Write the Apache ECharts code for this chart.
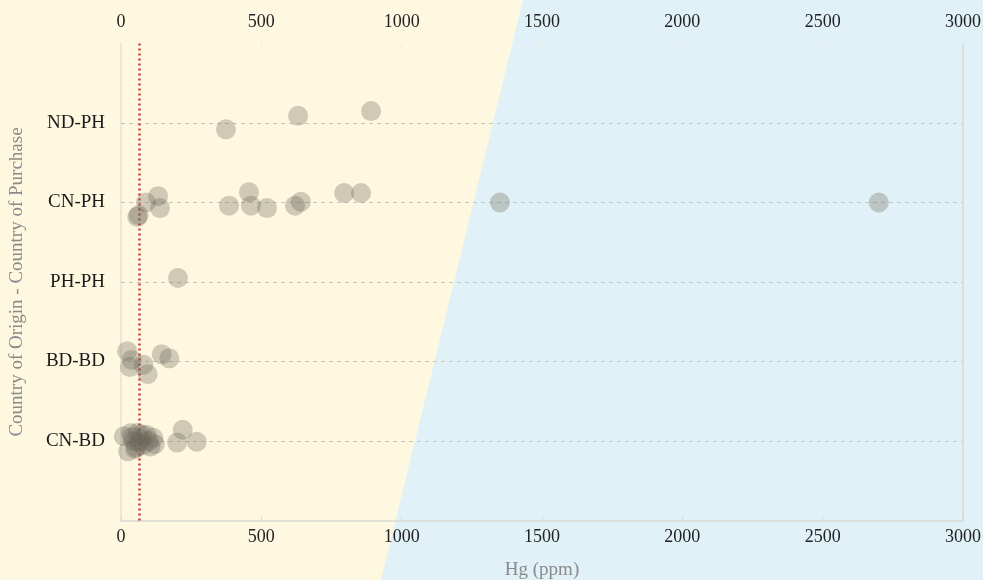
<!DOCTYPE html>
<html>
<head>
<meta charset="utf-8">
<script src="https://cdn.jsdelivr.net/npm/echarts@6/dist/echarts.min.js"></script>
<style>
  html, body { margin: 0; padding: 0; }
  #chart { width: 983px; height: 580px; }
</style>
</head>
<body>
<div id="chart"></div>
<script>
// Rows of the value axis: 1 = bottom row ... 5 = top row
const categories = ['CN-BD', 'BD-BD', 'PH-PH', 'CN-PH', 'ND-PH'];

// Hg concentration (ppm) with each sample's jittered row position
const cnBdHg  = [10, 25, 35, 40, 45, 50, 55, 60, 65, 70, 75, 80, 90, 100, 105, 115, 120, 200, 220, 270];
const cnBdRow = [1.06, 0.87, 1.10, 1.05, 1.00, 0.90, 0.92, 1.10, 0.98, 1.02, 1.08, 0.95, 1.08, 1.00, 0.93, 1.04, 0.96, 0.98, 1.14, 0.99];

const bdBdHg  = [22, 38, 32, 80, 95, 145, 172];
const bdBdRow = [2.13, 2.02, 1.93, 1.96, 1.84, 2.09, 2.04];

const phPhHg  = [203];
const phPhRow = [3.05];

const cnPhHg  = [58, 63, 89, 132, 139, 385, 456, 463, 520, 620, 641, 795, 855, 1350, 2700];
const cnPhRow = [3.82, 3.84, 4.00, 4.08, 3.93, 3.96, 4.13, 3.96, 3.93, 3.96, 4.01, 4.12, 4.12, 4.00, 4.00];

const ndPhHg  = [374, 631, 891];
const ndPhRow = [4.92, 5.09, 5.15];

// Reference concentration marked by the dotted red line
const hgLimit = 65;

// Hg axis ticks
const xTicks = [0, 500, 1000, 1500, 2000, 2500, 3000];
const xMin = xTicks[0], xMax = xTicks[xTicks.length - 1], xStep = xTicks[1] - xTicks[0];

const groups = [
  [cnBdHg, cnBdRow], [bdBdHg, bdBdRow], [phPhHg, phPhRow],
  [cnPhHg, cnPhRow], [ndPhHg, ndPhRow]
];
const points = [];
groups.forEach(([hg, row]) => hg.forEach((v, i) => points.push([v, row[i]])));

const serif = '"Liberation Serif", "Times New Roman", serif';
const tickText = v => String(v);

const chart = echarts.init(document.getElementById('chart'));
chart.setOption({
  backgroundColor: '#E0F2F7',
  animation: false,
  graphic: [{
    type: 'polygon',
    z: -10,
    silent: true,
    shape: { points: [[0, 0], [523, 0], [381, 580], [0, 580]] },
    style: { fill: '#FEF8E1' }
  }],
  grid: { left: 121, right: 20, top: 43.5, bottom: 59.5, outerBoundsMode: 'none', containLabel: false },
  xAxis: [{
    type: 'value',
    position: 'bottom',
    min: xMin, max: xMax, interval: xStep,
    name: 'Hg (ppm)',
    nameLocation: 'middle',
    nameGap: 40,
    nameTextStyle: { fontFamily: serif, fontSize: 19, color: '#8a8a8a' },
    axisLine: { show: true, lineStyle: { color: '#d9d9d3', width: 1.5 } },
    axisTick: { show: true, inside: true, length: 4, lineStyle: { color: '#d9d9d3' } },
    axisLabel: { margin: 8, fontFamily: serif, fontSize: 18, color: '#222', formatter: tickText },
    splitLine: { show: false }
  }, {
    type: 'value',
    position: 'top',
    min: xMin, max: xMax, interval: xStep,
    axisLine: { show: false },
    axisTick: { show: true, inside: true, length: 4, lineStyle: { color: '#ecebe2' } },
    axisLabel: { margin: 12, fontFamily: serif, fontSize: 18, color: '#222', formatter: tickText },
    splitLine: { show: false }
  }],
  yAxis: {
    type: 'value',
    min: 0, max: 6, interval: 1,
    name: 'Country of Origin - Country of Purchase',
    nameLocation: 'middle',
    nameGap: 94,
    nameTextStyle: { fontFamily: serif, fontSize: 19, color: '#8a8a8a' },
    axisLine: { show: true, lineStyle: { color: '#e4e2d6', width: 1.5 } },
    axisTick: { show: false },
    axisLabel: {
      margin: 16,
      fontFamily: serif, fontSize: 19, color: '#1a1a1a',
      formatter: v => categories[v - 1] || ''
    },
    splitLine: { show: false }
  },
  series: [{
    type: 'scatter',
    xAxisIndex: 0,
    data: points,
    symbolSize: 20,
    itemStyle: { color: 'rgba(109,102,90,0.4)' },
    z: 5,
    markLine: {
      silent: true,
      symbol: 'none',
      label: { show: false },
      animation: false,
      data: [
        ...categories.map((c, i) => ({
          yAxis: i + 1,
          lineStyle: { color: '#c6c6c0', type: [4, 4], width: 1 }
        })),
        { xAxis: hgLimit, lineStyle: { color: '#cc3b3b', type: [2, 3], width: 2.5 } }
      ]
    }
  }, {
    // right edge of the plot frame
    type: 'line',
    data: [],
    markLine: {
      silent: true, symbol: 'none', label: { show: false },
      data: [{ xAxis: xMax, lineStyle: { color: '#d8d8d2', type: 'solid', width: 1.5 } }]
    }
  }]
});
</script>
</body>
</html>
